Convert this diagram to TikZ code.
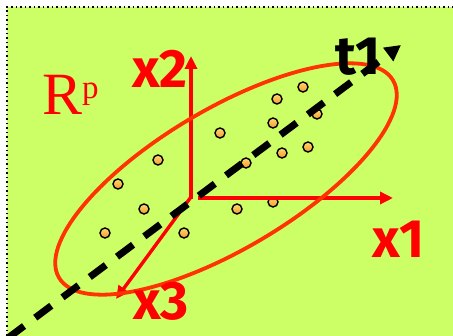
\documentclass[tikz,border=0pt]{standalone}
\usepackage{fontspec}
\setmainfont{Liberation Serif}
\newfontfamily\axisfont{Fira Sans}
\usetikzlibrary{arrows.meta,positioning}
\definecolor{bggreen}{HTML}{CCFF66}
\definecolor{axisred}{HTML}{FF0000}
\definecolor{ellred}{HTML}{FF3300}
\definecolor{dottop}{HTML}{FFD870}
\definecolor{dotbot}{HTML}{F59A2A}
\tikzset{
  axis/.style={axisred,line width=3.4pt,-{Triangle[length=13pt,width=12pt]}},
  lab/.style={anchor=base west,inner sep=0pt,text=axisred,font=\axisfont\bfseries\fontsize{54}{54}\selectfont},
  obs/.style={draw=black,line width=1.4pt,top color=dottop,bottom color=dotbot}
}
\begin{document}
\begin{tikzpicture}[x=1pt,y=-1pt]
    \useasboundingbox (0,0) rectangle (453,336);
    \fill[bggreen] (7,7) rectangle (453,336);
    \draw[line width=1.5pt,dash pattern=on 1.5pt off 3pt] (7,336)--(7,7)--(453,7);
    %% data points
    \foreach \p in {(303,87),(277,99),(317,114),(273,123),(220,133),(282,153),(308,147),(246,163),
                    (158,160),(118,184),(144,209),(237,209),(273,202),(105,233),(184,233)}
        \path[obs] \p circle (5pt);
    %% axes
    \coordinate (O) at (191,197);
    \coordinate (x1tip) at (393,198);
    \coordinate (x2tip) at (191,56);
    \coordinate (x3tip) at (116,299);
    \draw[axis] (O)++(7,1) -- (x1tip);
    \draw[axis,line cap=rect] (O) -- (x2tip);
    \draw[axis] (O) -- (x3tip);
    %% ellipse
    \coordinate (E) at (226,179);
    \draw[ellred,line width=3.8pt] (E) ellipse [x radius=194pt,y radius=70pt,rotate=30.6];
    %% first direction t1
    \coordinate (tstart) at (8,338);
    \coordinate (ttip) at (401,45);
    \draw[black,line width=7pt,dash pattern=on 20pt off 14pt,-{Triangle[length=16pt,width=16pt]}] (tstart) -- (ttip);
    %
    \node[lab] (labx2) at (132,88) {x2};
    \node[lab] (labx1) at (372,258) {x1};
    \node[lab] (labx3) at (133,320) {x3};
    \node[lab,text=black] (labt1) at (335,75) {t1};
    \node[anchor=base west,inner sep=0pt,text=axisred] (Rp) at (42,115)
        {\fontsize{60}{60}\selectfont R\raisebox{16pt}{\fontsize{33}{33}\selectfont p}};
\end{tikzpicture}
\end{document}
